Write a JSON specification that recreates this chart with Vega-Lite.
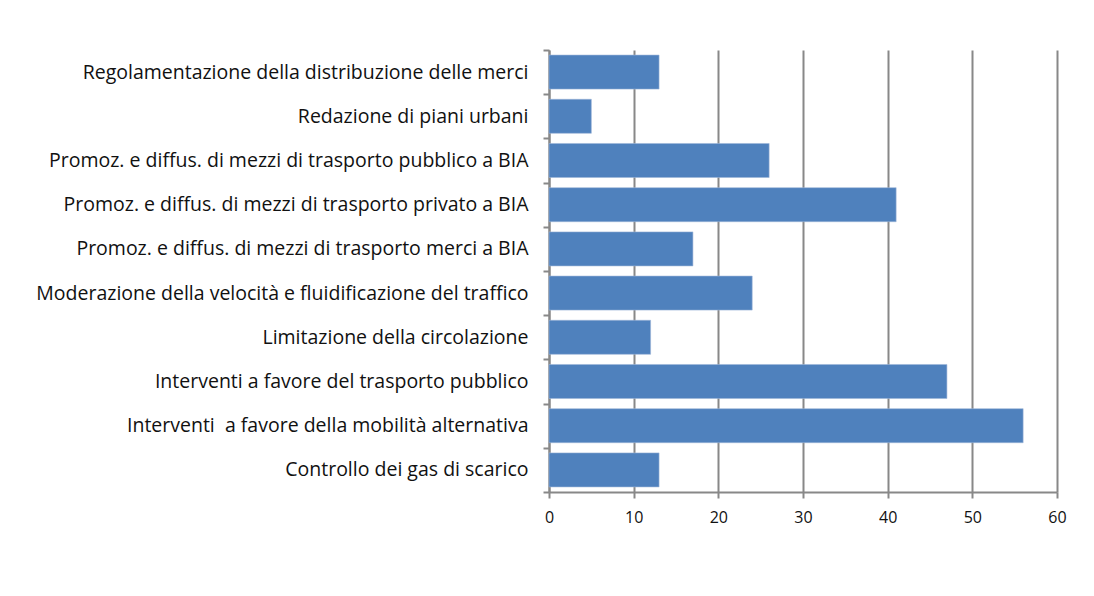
{
  "$schema": "https://vega.github.io/schema/vega-lite/v6.json",
  "autosize": {"type": "none"},
  "padding": {"left": 549, "top": 50, "right": 37, "bottom": 104},
  "width": 508,
  "height": 442,
  "background": "white",
  "data": {
    "values": [
      {"categoria": "Regolamentazione della distribuzione delle merci", "valore": 13},
      {"categoria": "Redazione di piani urbani", "valore": 5},
      {"categoria": "Promoz. e diffus. di mezzi di trasporto pubblico a BIA", "valore": 26},
      {"categoria": "Promoz. e diffus. di mezzi di trasporto privato a BIA", "valore": 41},
      {"categoria": "Promoz. e diffus. di mezzi di trasporto merci a BIA", "valore": 17},
      {"categoria": "Moderazione della velocità e fluidificazione del traffico", "valore": 24},
      {"categoria": "Limitazione della circolazione", "valore": 12},
      {"categoria": "Interventi a favore del trasporto pubblico", "valore": 47},
      {"categoria": "Interventi \u00a0a favore della mobilità alternativa", "valore": 56},
      {"categoria": "Controllo dei gas di scarico", "valore": 13}
    ]
  },
  "mark": {"type": "bar", "color": "#4F81BD", "height": {"band": 0.77}, "stroke": "#9DB5D8", "strokeWidth": 0.6},
  "encoding": {
    "y": {
      "field": "categoria",
      "type": "nominal",
      "sort": null,
      "scale": {"paddingInner": 0, "paddingOuter": 0},
      "axis": {
        "title": null,
        "tickBand": "extent",
        "domainColor": "#888888",
        "domainWidth": 2,
        "tickColor": "#888888",
        "tickWidth": 2,
        "tickSize": 6,
        "labelPadding": 15,
        "labelFont": "Open Sans",
        "labelFontSize": 19.5,
        "labelColor": "#111111",
        "labelLimit": 600,
        "grid": false
      }
    },
    "x": {
      "field": "valore",
      "type": "quantitative",
      "scale": {"domain": [0, 60], "nice": false},
      "axis": {
        "title": null,
        "values": [0, 10, 20, 30, 40, 50, 60],
        "labelFlush": false,
        "grid": true,
        "gridColor": "#888888",
        "gridWidth": 2,
        "domainColor": "#888888",
        "domainWidth": 2,
        "tickColor": "#888888",
        "tickWidth": 2,
        "tickSize": 6,
        "labelPadding": 11,
        "labelFont": "Open Sans",
        "labelFontSize": 16,
        "labelColor": "#111111"
      }
    }
  },
  "config": {"view": {"stroke": null}}
}
